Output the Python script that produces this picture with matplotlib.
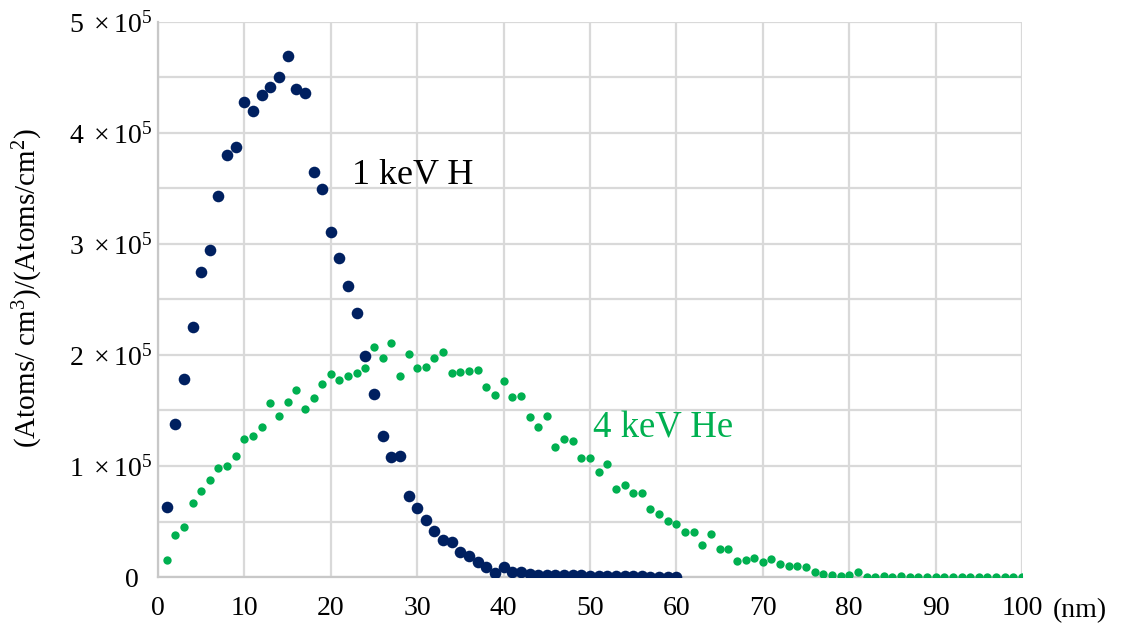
import matplotlib
matplotlib.use("Agg")
import matplotlib.pyplot as plt
import numpy as np

plt.rcParams['font.family'] = ['Liberation Serif', 'DejaVu Serif']
plt.rcParams['mathtext.fontset'] = 'custom'
plt.rcParams['mathtext.rm'] = 'Liberation Serif'
plt.rcParams['mathtext.it'] = 'Liberation Serif:italic'

# 1 keV H profile (depth in nm, value in units of 1e5)
h_depth = np.arange(1, 61)
h_vals = np.array([
    0.63, 1.375, 1.78, 2.25, 2.745, 2.95, 3.43, 3.80, 3.877, 4.28,
    4.20, 4.34, 4.41, 4.50, 4.69, 4.40, 4.357, 3.65, 3.495, 3.11,
    2.874, 2.622, 2.375, 1.988, 1.651, 1.273, 1.078, 1.09, 0.73, 0.62,
    0.51, 0.41, 0.33, 0.315, 0.225, 0.19, 0.135, 0.09, 0.035, 0.09,
    0.045, 0.045, 0.025, 0.02, 0.02, 0.015, 0.015, 0.015, 0.015, 0.01,
    0.01, 0.005, 0.005, 0.005, 0.005, 0.005, 0.003, 0.003, 0.003, 0.003,
]) * 1e5

# 4 keV He profile
he_depth = np.arange(1, 101)
he_vals = np.array([
    0.153, 0.376, 0.45, 0.667, 0.775, 0.87, 0.985, 0.997, 1.093, 1.246,
    1.273, 1.349, 1.565, 1.448, 1.579, 1.687, 1.511, 1.613, 1.739, 1.829,
    1.772, 1.811, 1.841, 1.883, 2.075, 1.973, 2.105, 1.814, 2.006, 1.88,
    1.895, 1.973, 2.027, 1.835, 1.847, 1.853, 1.868, 1.714, 1.637, 1.763,
    1.619, 1.631, 1.439, 1.349, 1.448, 1.168, 1.246, 1.225, 1.072, 1.072,
    0.949, 1.018, 0.796, 0.826, 0.76, 0.76, 0.61, 0.565, 0.504, 0.477,
    0.408, 0.408, 0.285, 0.39, 0.255, 0.255, 0.141, 0.153, 0.174, 0.132,
    0.162, 0.114, 0.099, 0.099, 0.093, 0.045, 0.024, 0.021, 0.009, 0.015,
    0.042, 0.001, 0.003, 0.006, 0.003, 0.009, 0.003, 0.001, 0.001, 0.002,
    0.001, 0.001, 0.001, 0.001, 0.001, 0.001, 0.001, 0.001, 0.001, 0.001,
]) * 1e5

y_ticks = [0, 1e5, 2e5, 3e5, 4e5, 5e5]
y_ticklabels = ['0  ', r'$1\ \times 10^5$', r'$2\ \times 10^5$', r'$3\ \times 10^5$',
                r'$4\ \times 10^5$', r'$5\ \times 10^5$']
x_ticks = np.arange(0, 101, 10)

navy = '#002060'
green = '#00B050'

fig = plt.figure(figsize=(11.22, 6.28), dpi=100)
ax = fig.add_axes([0.1408, 0.0812, 0.7701, 0.8838])

ax.scatter(h_depth, h_vals, s=70, color=navy, zorder=3, linewidths=0)
ax.scatter(he_depth, he_vals, s=36, color=green, zorder=3, linewidths=0)

ax.set_xlim(0, 100)
ax.set_ylim(0, 5e5)
ax.set_xticks(x_ticks)
ax.set_yticks(y_ticks)
ax.set_yticklabels(y_ticklabels)
ax.set_yticks(np.arange(0.5e5, 5e5, 1e5), minor=True)
ax.tick_params(axis='both', which='both', length=0, labelsize=20)
ax.tick_params(axis='x', pad=14)
ax.tick_params(axis='y', pad=4)

ax.grid(True, which='both', color='#d9d9d9', linewidth=1.6, zorder=0)
ax.set_axisbelow(True)
for side in ['top', 'right']:
    ax.spines[side].set_visible(False)
for side in ['left', 'bottom']:
    ax.spines[side].set_color('#c8c8c8')
    ax.spines[side].set_linewidth(1.6)

fig.text(28 / 1122, 1 - 288 / 628, r'(Atoms/ cm$^3$)/(Atoms/cm$^2$)',
         fontsize=21, rotation=90, ha='center', va='center')
ax.text(1.035, -0.06, '(nm)', transform=ax.transAxes, fontsize=20,
        ha='left', va='center')

ax.text(22.4, 3.62e5, '1 keV H', fontsize=26, color='black', va='center')
ax.text(50.3, 1.34e5, '4 keV He', fontsize=26.5, color=green, va='center')

fig.savefig('out.png', dpi=100)
